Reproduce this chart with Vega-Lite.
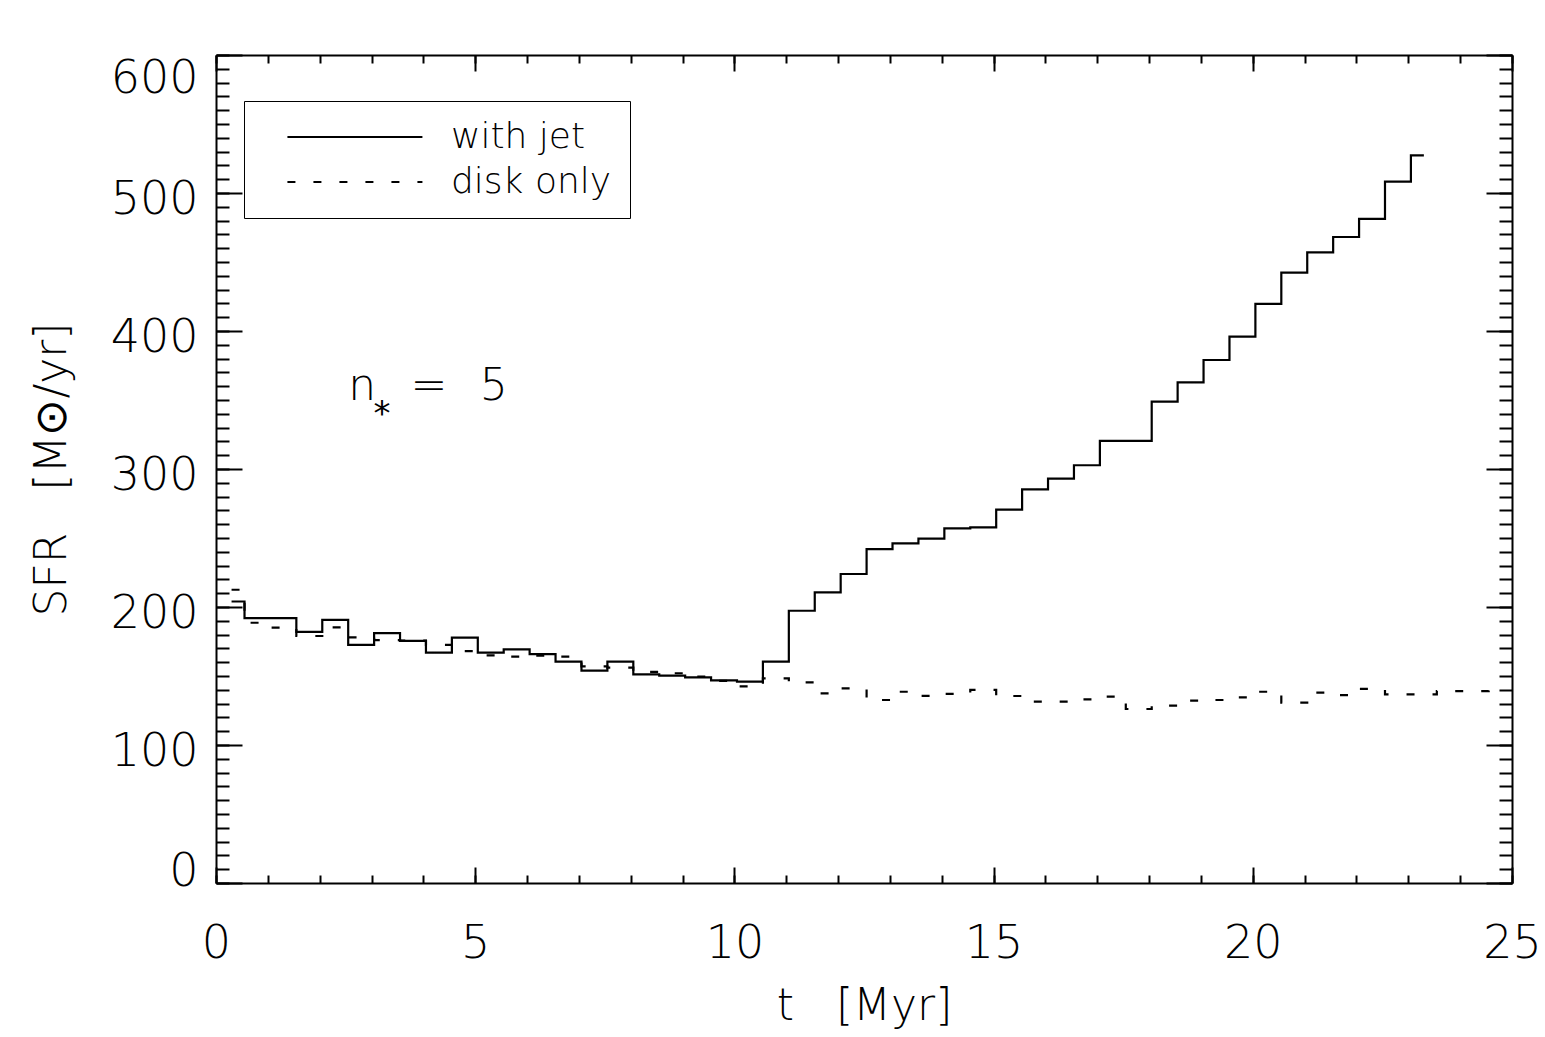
{
  "$schema": "https://vega.github.io/schema/vega-lite/v6.json",
  "width": 1296,
  "height": 828,
  "autosize": {"type": "none"},
  "padding": {"left": 216, "top": 55, "right": 33, "bottom": 154},
  "background": "white",
  "config": {
    "view": {"stroke": null},
    "font": "DejaVu Sans",
    "text": {"font": "DejaVu Sans", "fontWeight": 200, "color": "black", "fill": "black"}
  },
  "layer": [
    {
      "data": {"values": [
        {"t": 0.3, "v": 204, "s": "with jet"},
        {"t": 0.8, "v": 192, "s": "with jet"},
        {"t": 1.3, "v": 192, "s": "with jet"},
        {"t": 1.8, "v": 182, "s": "with jet"},
        {"t": 2.3, "v": 190.6, "s": "with jet"},
        {"t": 2.8, "v": 172.5, "s": "with jet"},
        {"t": 3.3, "v": 181, "s": "with jet"},
        {"t": 3.8, "v": 175.4, "s": "with jet"},
        {"t": 4.3, "v": 167, "s": "with jet"},
        {"t": 4.8, "v": 177.8, "s": "with jet"},
        {"t": 5.3, "v": 167, "s": "with jet"},
        {"t": 5.8, "v": 169.3, "s": "with jet"},
        {"t": 6.3, "v": 165.9, "s": "with jet"},
        {"t": 6.8, "v": 160.4, "s": "with jet"},
        {"t": 7.3, "v": 153.9, "s": "with jet"},
        {"t": 7.8, "v": 160.4, "s": "with jet"},
        {"t": 8.3, "v": 151.2, "s": "with jet"},
        {"t": 8.8, "v": 150.2, "s": "with jet"},
        {"t": 9.3, "v": 149, "s": "with jet"},
        {"t": 9.8, "v": 146.9, "s": "with jet"},
        {"t": 10.3, "v": 145.9, "s": "with jet"},
        {"t": 10.8, "v": 160.4, "s": "with jet"},
        {"t": 11.3, "v": 197.3, "s": "with jet"},
        {"t": 11.8, "v": 210.6, "s": "with jet"},
        {"t": 12.3, "v": 223.9, "s": "with jet"},
        {"t": 12.8, "v": 242, "s": "with jet"},
        {"t": 13.3, "v": 246.1, "s": "with jet"},
        {"t": 13.8, "v": 249.5, "s": "with jet"},
        {"t": 14.3, "v": 257, "s": "with jet"},
        {"t": 14.8, "v": 257.7, "s": "with jet"},
        {"t": 15.3, "v": 270.5, "s": "with jet"},
        {"t": 15.8, "v": 285.3, "s": "with jet"},
        {"t": 16.3, "v": 293, "s": "with jet"},
        {"t": 16.8, "v": 302.7, "s": "with jet"},
        {"t": 17.3, "v": 320.4, "s": "with jet"},
        {"t": 17.8, "v": 320.4, "s": "with jet"},
        {"t": 18.3, "v": 348.8, "s": "with jet"},
        {"t": 18.8, "v": 362.8, "s": "with jet"},
        {"t": 19.3, "v": 379, "s": "with jet"},
        {"t": 19.8, "v": 395.9, "s": "with jet"},
        {"t": 20.3, "v": 419.6, "s": "with jet"},
        {"t": 20.8, "v": 442.3, "s": "with jet"},
        {"t": 21.3, "v": 457, "s": "with jet"},
        {"t": 21.8, "v": 468.1, "s": "with jet"},
        {"t": 22.3, "v": 481.2, "s": "with jet"},
        {"t": 22.8, "v": 508.2, "s": "with jet"},
        {"t": 23.3, "v": 527.3, "s": "with jet"},
        {"t": 0.3, "v": 212.5, "s": "disk only"},
        {"t": 0.8, "v": 188.6, "s": "disk only"},
        {"t": 1.3, "v": 185, "s": "disk only"},
        {"t": 1.8, "v": 179, "s": "disk only"},
        {"t": 2.3, "v": 185.3, "s": "disk only"},
        {"t": 2.8, "v": 178, "s": "disk only"},
        {"t": 3.3, "v": 176, "s": "disk only"},
        {"t": 3.8, "v": 175.6, "s": "disk only"},
        {"t": 4.3, "v": 172.5, "s": "disk only"},
        {"t": 4.8, "v": 168, "s": "disk only"},
        {"t": 5.3, "v": 165, "s": "disk only"},
        {"t": 5.8, "v": 164, "s": "disk only"},
        {"t": 6.3, "v": 164.7, "s": "disk only"},
        {"t": 6.8, "v": 164, "s": "disk only"},
        {"t": 7.3, "v": 157, "s": "disk only"},
        {"t": 7.8, "v": 156, "s": "disk only"},
        {"t": 8.3, "v": 153, "s": "disk only"},
        {"t": 8.8, "v": 152, "s": "disk only"},
        {"t": 9.3, "v": 149.5, "s": "disk only"},
        {"t": 9.8, "v": 146.5, "s": "disk only"},
        {"t": 10.3, "v": 142.5, "s": "disk only"},
        {"t": 10.8, "v": 148.3, "s": "disk only"},
        {"t": 11.3, "v": 145.4, "s": "disk only"},
        {"t": 11.8, "v": 137.4, "s": "disk only"},
        {"t": 12.3, "v": 141, "s": "disk only"},
        {"t": 12.8, "v": 132.6, "s": "disk only"},
        {"t": 13.3, "v": 138.6, "s": "disk only"},
        {"t": 13.8, "v": 135.6, "s": "disk only"},
        {"t": 14.3, "v": 137, "s": "disk only"},
        {"t": 14.8, "v": 140, "s": "disk only"},
        {"t": 15.3, "v": 135.5, "s": "disk only"},
        {"t": 15.8, "v": 131.5, "s": "disk only"},
        {"t": 16.3, "v": 131.4, "s": "disk only"},
        {"t": 16.8, "v": 133, "s": "disk only"},
        {"t": 17.3, "v": 135, "s": "disk only"},
        {"t": 17.8, "v": 126.1, "s": "disk only"},
        {"t": 18.3, "v": 128.5, "s": "disk only"},
        {"t": 18.8, "v": 132.1, "s": "disk only"},
        {"t": 19.3, "v": 132.6, "s": "disk only"},
        {"t": 19.8, "v": 134.5, "s": "disk only"},
        {"t": 20.3, "v": 138.6, "s": "disk only"},
        {"t": 20.8, "v": 130.7, "s": "disk only"},
        {"t": 21.3, "v": 137.9, "s": "disk only"},
        {"t": 21.8, "v": 136.2, "s": "disk only"},
        {"t": 22.3, "v": 140.6, "s": "disk only"},
        {"t": 22.8, "v": 136.7, "s": "disk only"},
        {"t": 23.3, "v": 136.7, "s": "disk only"},
        {"t": 23.8, "v": 139.1, "s": "disk only"},
        {"t": 24.3, "v": 139.1, "s": "disk only"},
        {"t": 24.8, "v": 139.9, "s": "disk only"}
      ]},
      "mark": {"type": "line", "interpolate": "step", "stroke": "black", "strokeWidth": 2.2},
      "encoding": {
        "x": {
          "field": "t", "type": "quantitative",
          "scale": {"domain": [0, 25], "nice": false, "zero": false},
          "axis": {
            "orient": "bottom", "values": [0, 5, 10, 15, 20, 25], "format": "d",
            "tickSize": -16, "tickWidth": 2, "tickColor": "black",
            "domain": true, "domainColor": "black", "domainWidth": 2, "grid": false,
            "labelFont": "DejaVu Sans", "labelFontWeight": 200, "labelFontSize": 46, "labelColor": "black",
            "labelBaseline": "alphabetic", "labelPadding": 90, "labelFlush": false, "labelOverlap": false,
            "title": "t\u00a0\u00a0\u00a0[Myr]", "titleFont": "DejaVu Sans", "titleFontWeight": 200,
            "titleFontSize": 44, "titleColor": "black", "titleBaseline": "alphabetic",
            "titleX": 648, "titleY": 136, "titleAlign": "center"
          }
        },
        "y": {
          "field": "v", "type": "quantitative",
          "scale": {"domain": [0, 600], "nice": false, "zero": true},
          "axis": {
            "orient": "left", "values": [0, 100, 200, 300, 400, 500, 600], "format": "d",
            "tickSize": -26, "tickWidth": 2, "tickColor": "black",
            "domain": true, "domainColor": "black", "domainWidth": 2, "grid": false,
            "labelFont": "DejaVu Sans", "labelFontWeight": 200, "labelFontSize": 46, "labelColor": "black",
            "labelBaseline": "alphabetic", "labelAlign": "right", "labelPadding": 44,
            "labelOffset": {"condition": [{"test": "datum.value === 0", "value": 2}, {"test": "datum.value === 600", "value": 37}], "value": 20},
            "labelFlush": false, "labelOverlap": false,
            "title": "SFR\u00a0\u00a0\u00a0[M\u2299/yr]", "titleFont": "DejaVu Sans", "titleFontWeight": 200,
            "titleFontSize": 44, "titleColor": "black", "titleBaseline": "alphabetic",
            "titleAngle": 270, "titleX": -151, "titleY": 414, "titleAlign": "center"
          }
        },
        "strokeDash": {
          "field": "s", "type": "nominal",
          "scale": {"domain": ["with jet", "disk only"], "range": [[1, 0], [8, 18]]},
          "legend": {
            "orient": "none", "legendX": 28, "legendY": 46, "title": null,
            "symbolType": "M0.55,0H10.55", "symbolSize": 729, "symbolStrokeWidth": 2,
            "symbolStrokeColor": "black", "symbolFillColor": "transparent",
            "labelFont": "DejaVu Sans", "labelFontWeight": 200, "labelFontSize": 36, "labelColor": "black",
            "labelOffset": 153, "labelLimit": 0,
            "strokeColor": "black", "fillColor": "white",
            "padding": 18, "rowPadding": 9
          }
        }
      }
    },
    {
      "data": {"values": [{}]},
      "mark": {"type": "text", "text": "n", "fontSize": 44, "align": "left", "baseline": "alphabetic", "fill": "black"},
      "encoding": {
        "x": {"datum": 2.55, "type": "quantitative", "axis": {
          "orient": "top", "values": [0, 5, 10, 15, 20, 25], "tickSize": -16, "tickWidth": 2, "tickColor": "black",
          "domain": true, "domainColor": "black", "domainWidth": 2, "grid": false, "labels": false, "title": null}},
        "y": {"datum": 350, "type": "quantitative", "axis": {
          "orient": "right", "values": [0, 100, 200, 300, 400, 500, 600], "tickSize": -26, "tickWidth": 2, "tickColor": "black",
          "domain": true, "domainColor": "black", "domainWidth": 2, "grid": false, "labels": false, "title": null}}
      }
    },
    {
      "data": {"values": [{}]},
      "mark": {"type": "text", "text": "*", "fontSize": 34, "fontWeight": 400, "align": "center", "baseline": "alphabetic", "fill": "black"},
      "encoding": {
        "x": {"datum": 3.2, "type": "quantitative", "axis": {
          "orient": "bottom", "values": [0,1,2,3,4,5,6,7,8,9,10,11,12,13,14,15,16,17,18,19,20,21,22,23,24,25],
          "tickSize": -8, "tickWidth": 2, "tickColor": "black",
          "domain": false, "grid": false, "labels": false, "title": null}},
        "y": {"datum": 332, "type": "quantitative", "axis": {
          "orient": "left", "values": [0,10,20,30,40,50,60,70,80,90,100,110,120,130,140,150,160,170,180,190,200,210,220,230,240,250,260,270,280,290,300,310,320,330,340,350,360,370,380,390,400,410,420,430,440,450,460,470,480,490,500,510,520,530,540,550,560,570,580,590,600],
          "tickSize": -13, "tickWidth": 2, "tickColor": "black",
          "domain": false, "grid": false, "labels": false, "title": null}}
      }
    },
    {
      "data": {"values": [{}]},
      "mark": {"type": "text", "text": "=", "fontSize": 44, "align": "center", "baseline": "alphabetic", "fill": "black"},
      "encoding": {
        "x": {"datum": 4.11, "type": "quantitative", "axis": {
          "orient": "top", "values": [0,1,2,3,4,5,6,7,8,9,10,11,12,13,14,15,16,17,18,19,20,21,22,23,24,25],
          "tickSize": -8, "tickWidth": 2, "tickColor": "black",
          "domain": false, "grid": false, "labels": false, "title": null}},
        "y": {"datum": 350, "type": "quantitative", "axis": {
          "orient": "right", "values": [0,10,20,30,40,50,60,70,80,90,100,110,120,130,140,150,160,170,180,190,200,210,220,230,240,250,260,270,280,290,300,310,320,330,340,350,360,370,380,390,400,410,420,430,440,450,460,470,480,490,500,510,520,530,540,550,560,570,580,590,600],
          "tickSize": -13, "tickWidth": 2, "tickColor": "black",
          "domain": false, "grid": false, "labels": false, "title": null}}
      }
    },
    {
      "data": {"values": [{}]},
      "mark": {"type": "text", "text": "5", "fontSize": 44, "align": "center", "baseline": "alphabetic", "fill": "black"},
      "encoding": {
        "x": {"datum": 5.36, "type": "quantitative", "axis": null},
        "y": {"datum": 350, "type": "quantitative", "axis": null}
      }
    }
  ],
  "resolve": {"axis": {"x": "independent", "y": "independent"}}
}
